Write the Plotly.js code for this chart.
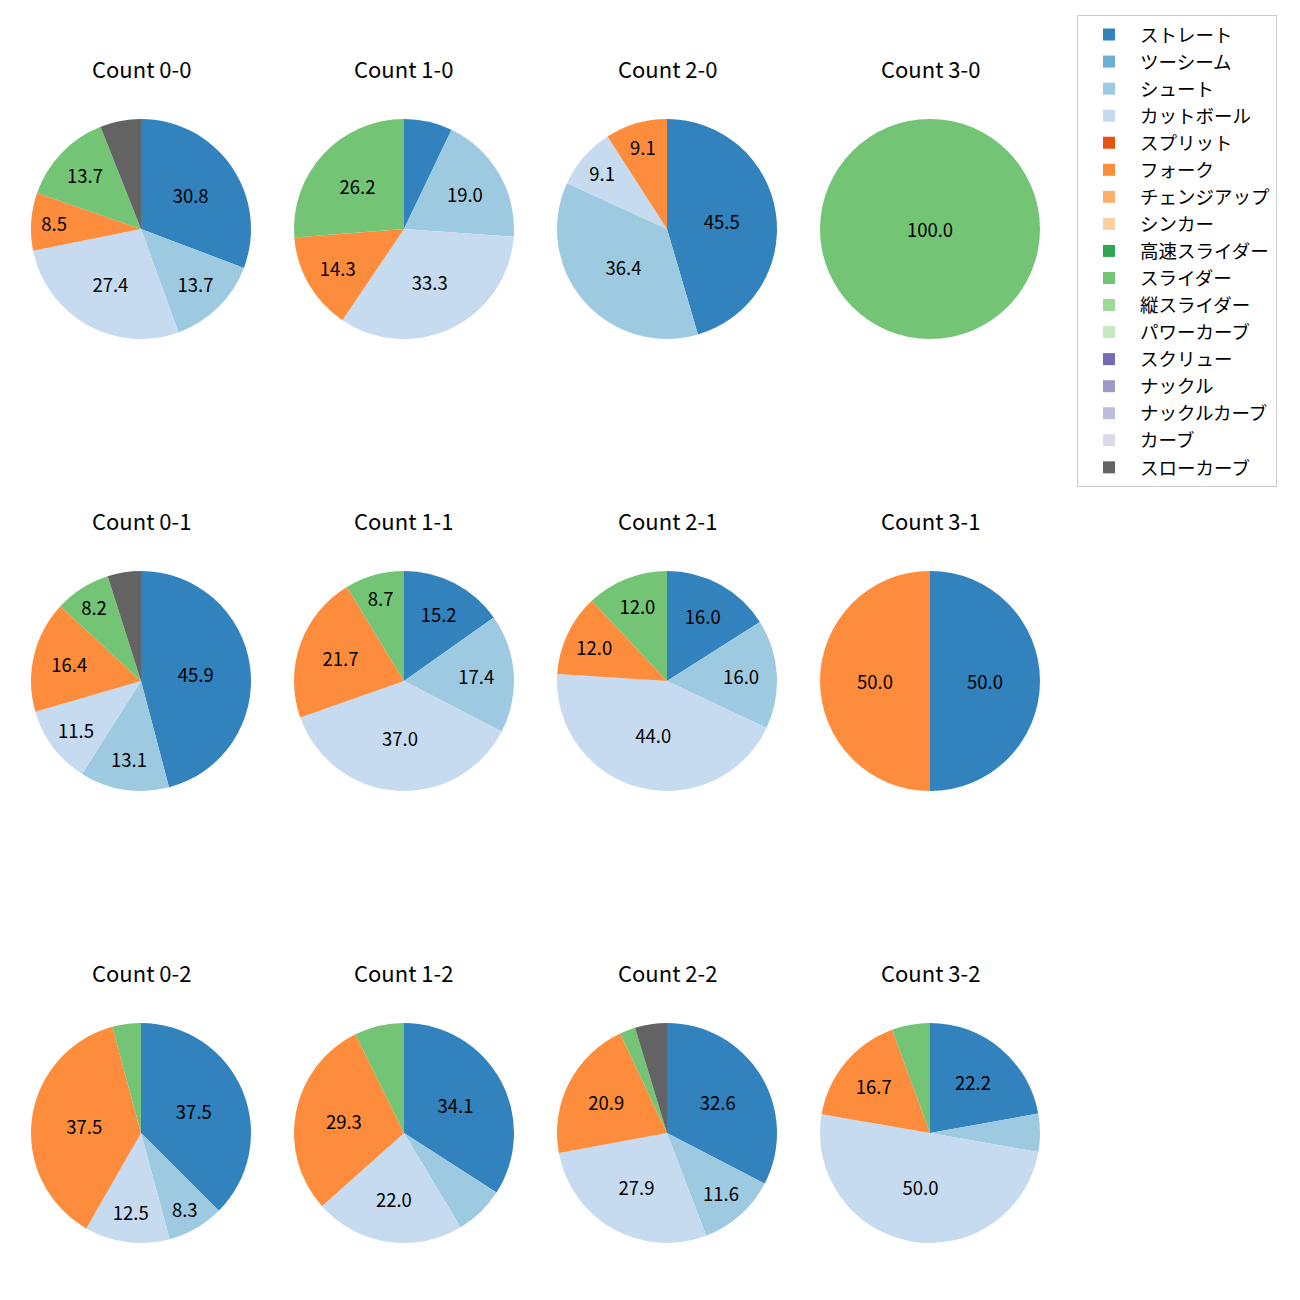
<!DOCTYPE html>
<html>
<head>
<meta charset="utf-8">
<script src="https://cdn.plot.ly/plotly-3.0.1.min.js"></script>
<style>html,body{margin:0;padding:0;background:#fff;}</style>
</head>
<body>
<div id="chart" style="width:1300px;height:1300px;"></div>
<script>
// Pitch type categories (legend order)
const pitchTypes = ["ストレート","ツーシーム","シュート","カットボール","スプリット","フォーク","チェンジアップ","シンカー","高速スライダー","スライダー","縦スライダー","パワーカーブ","スクリュー","ナックル","ナックルカーブ","カーブ","スローカーブ"];
const pitchColors = ["#3182bd","#6baed6","#9ecae1","#c6dbef","#e6550d","#fd8d3c","#fdae6b","#fdd0a2","#31a354","#74c476","#a1d99b","#c7e9c0","#756bb1","#9e9ac8","#bcbddc","#dadaeb","#636363"];

// Counts (subplot titles), in grid order: rows = strikes, cols = balls
const countTitles = [
  "Count 0-0","Count 1-0","Count 2-0","Count 3-0",
  "Count 0-1","Count 1-1","Count 2-1","Count 3-1",
  "Count 0-2","Count 1-2","Count 2-2","Count 3-2"
];

// Percentages per pitch type (same order as pitchTypes)
//                St    2S   Sh    Cut   Spl  Fk    CH  Sk  HSl Sl    VSl PC  Scr Kn KnC Cv  SlowC
const count00 = [30.8, 0, 13.7, 27.4, 0, 8.5, 0, 0, 0, 13.7, 0, 0, 0, 0, 0, 0, 6.0];
const count10 = [7.1, 0, 19.0, 33.3, 0, 14.3, 0, 0, 0, 26.2, 0, 0, 0, 0, 0, 0, 0];
const count20 = [45.5, 0, 36.4, 9.1, 0, 9.1, 0, 0, 0, 0, 0, 0, 0, 0, 0, 0, 0];
const count30 = [0, 0, 0, 0, 0, 0, 0, 0, 0, 100.0, 0, 0, 0, 0, 0, 0, 0];
const count01 = [45.9, 0, 13.1, 11.5, 0, 16.4, 0, 0, 0, 8.2, 0, 0, 0, 0, 0, 0, 4.9];
const count11 = [15.2, 0, 17.4, 37.0, 0, 21.7, 0, 0, 0, 8.7, 0, 0, 0, 0, 0, 0, 0];
const count21 = [16.0, 0, 16.0, 44.0, 0, 12.0, 0, 0, 0, 12.0, 0, 0, 0, 0, 0, 0, 0];
const count31 = [50.0, 0, 0, 0, 0, 50.0, 0, 0, 0, 0, 0, 0, 0, 0, 0, 0, 0];
const count02 = [37.5, 0, 8.3, 12.5, 0, 37.5, 0, 0, 0, 4.2, 0, 0, 0, 0, 0, 0, 0];
const count12 = [34.1, 0, 7.3, 22.0, 0, 29.3, 0, 0, 0, 7.3, 0, 0, 0, 0, 0, 0, 0];
const count22 = [32.6, 0, 11.6, 27.9, 0, 20.9, 0, 0, 0, 2.3, 0, 0, 0, 0, 0, 0, 4.7];
const count32 = [22.2, 0, 5.6, 50.0, 0, 16.7, 0, 0, 0, 5.6, 0, 0, 0, 0, 0, 0, 0];

const countValues = [count00,count10,count20,count30,count01,count11,count21,count31,count02,count12,count22,count32];

const W = 1300, H = 1300;
const colCenters = [141, 404, 667, 930];
const rowCenters = [229, 681, 1133];
const R = 110;
const titleOffset = 161;
const FONT = "Noto Sans CJK JP, DejaVu Sans, sans-serif";

const data = [];
const annotations = [];
countValues.forEach((vals, i) => {
  const r = Math.floor(i / 4), c = i % 4;
  const cx = colCenters[c], cy = rowCenters[r];
  const texts = vals.map(v => v >= 8 ? v.toFixed(1) : "");
  data.push({
    type: "pie",
    labels: pitchTypes,
    values: vals,
    text: texts,
    textinfo: "text",
    textposition: "inside",
    insidetextorientation: "horizontal",
    textfont: {family: FONT, size: 18.5, color: "#000"},
    marker: {colors: pitchColors, line: {width: 0}},
    sort: false,
    direction: "clockwise",
    rotation: 0,
    showlegend: i === 0,
    hoverinfo: "label+percent",
    domain: {x: [(cx - R) / W, (cx + R) / W], y: [1 - (cy + R) / H, 1 - (cy - R) / H]}
  });
  annotations.push({
    text: countTitles[i],
    x: cx / W, y: 1 - (cy - titleOffset) / H,
    xref: "paper", yref: "paper",
    xanchor: "center", yanchor: "middle",
    showarrow: false,
    font: {family: FONT, size: 22, color: "#000"}
  });
});

const layout = {
  width: W, height: H,
  margin: {l: 0, r: 0, t: 0, b: 0},
  paper_bgcolor: "#fff",
  font: {family: FONT},
  annotations: annotations,
  showlegend: true,
  legend: {
    x: 1077 / W, y: 1 - 15 / H, xanchor: "left", yanchor: "top",
    bgcolor: "#fff", bordercolor: "#cccccc", borderwidth: 1,
    font: {family: FONT, size: 18.5, color: "#000"},
    itemwidth: 52,
    traceorder: "normal"
  }
};

Plotly.newPlot("chart", data, layout, {displayModeBar: false});
</script>
</body>
</html>
